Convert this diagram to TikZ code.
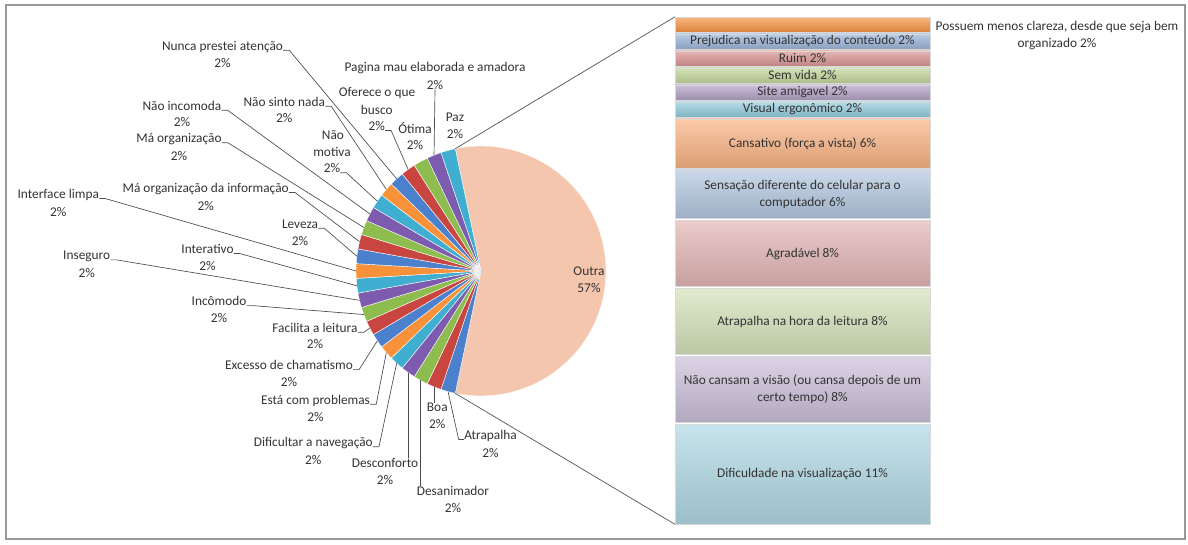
\documentclass[tikz,border=0pt]{standalone}
\usepackage{fontspec}
\setmainfont{Carlito}
\definecolor{cblue}{HTML}{4A80CC}
\definecolor{cred}{HTML}{C9453F}
\definecolor{cgreen}{HTML}{8DBD4E}
\definecolor{cpurple}{HTML}{7D5BAE}
\definecolor{caqua}{HTML}{3FAED0}
\definecolor{corange}{HTML}{F7923A}
\definecolor{coutra}{HTML}{F4C6AE}
\tikzset{
  lbl/.style={font=\fontsize{10}{12.5}\selectfont, text=black!80, inner sep=0pt, align=center},
  lead/.style={draw=black!70, line width=0.5pt},
  seg/.style={font=\fontsize{10}{12.5}\selectfont, text=black!80, inner sep=0pt, align=center,
    minimum width=191pt, draw=white!85!black, line width=0.3pt},
}
\newcommand\pielabel[4]{
    \node[lbl] (#1) at (#2,#3) {#4};
    \node[lbl] (#1p) at (#2,#3+16.5) {2\%};
}

\begin{document}
\begin{tikzpicture}[x=0.75pt,y=-0.75pt]
    \useasboundingbox (0,0) rectangle (1188,544);
    \draw[gray!80, line width=1.5pt] (6,5) rectangle (1185,539);
    % pie
    \coordinate (c) at (481,271);
    \filldraw[fill=coutra, draw=white, line width=0.3pt] (c) -- ++(-101.887:125)
        arc[start angle=-101.887, end angle=101.887, radius=125] -- cycle;
    \foreach \col [count=\k] in {cblue,cred,cgreen,cpurple,caqua,corange,
        cblue,cred,cgreen,cpurple,caqua,corange,cblue,cred,cgreen,cpurple,caqua,corange,
        cblue,cred,cgreen,cpurple,caqua}{
        \pgfmathsetmacro\a{101.887+(\k-1)*6.7925}
        \filldraw[fill=\col, draw=white, line width=0.3pt] (c) -- ++(\a:125)
            arc[start angle=\a, end angle=\a+6.7925, radius=125] -- cycle;
        \path (c) ++(\a+3.396:125) coordinate (s\k);
    }
    \path (c) ++(-101.887:125) coordinate (otop);
    \path (c) ++(101.887:125) coordinate (obot);
    \node[lbl] (outra) at (589,280) {Outra\\57\%};
    % labels round the pie
    \pielabel{atrap}{490.5}{436}{Atrapalha}
    \pielabel{boa}{437.3}{407.3}{Boa}
    \pielabel{desan}{453}{491}{Desanimador}
    \pielabel{desconf}{385}{463.3}{Desconforto}
    \pielabel{dific}{313.3}{443.3}{Dificultar a navegação}
    \pielabel{esta}{315.5}{400.7}{Está com problemas}
    \pielabel{exc}{289}{365}{Excesso de chamatismo}
    \pielabel{facil}{315}{327.7}{Facilita a leitura}
    \pielabel{incom}{219}{301}{Incômodo}
    \pielabel{inseg}{86.7}{256.7}{Inseguro}
    \pielabel{intera}{207.5}{249}{Interativo}
    \pielabel{iface}{58.3}{195}{Interface limpa}
    \pielabel{leveza}{300}{224}{Leveza}
    \pielabel{mainfo}{205.7}{189}{Má organização da informação}
    \pielabel{maorg}{179}{139.3}{Má organização}
    \pielabel{naoinc}{182}{105.7}{Não incomoda}
    \node[lbl] (motiva) at (333,135) {Não};
    \pielabel{motiva2}{332}{151.7}{motiva}
    \pielabel{naosinto}{284.3}{101.7}{Não sinto nada}
    \pielabel{nunca}{222.5}{46.7}{Nunca prestei atenção}
    \node[lbl] (oferece) at (377,93.3) {Oferece o que};
    \pielabel{oferece2}{376.7}{109.5}{busco}
    \pielabel{otima}{415}{128.3}{Ótima}
    \pielabel{pagina}{435}{68.3}{Pagina mau elaborada e amadora}
    \pielabel{paz}{455}{117.3}{Paz}
    % leader lines
    \foreach \n/\k in {dific/5,esta/6,exc/7,facil/8,incom/9,inseg/10,intera/11,iface/12,
        leveza/13,mainfo/14,maorg/15,naoinc/16,naosinto/18,nunca/19}
        \draw[lead] (\n.base east) -- ++(6,0) -- (s\k);
    \draw[lead] (motiva2p.base east) -- ++(6,0) -- (s17);
    \draw[lead] (oferece2p.base east) -- ++(6,0) -- (s20);
    \draw[lead] (paginap.south) -- (s22);
    \draw[lead] (s1) -- ([xshift=-4pt]atrap.base west) -- (atrap.base west);
    \draw[lead] (s2) -- (s2 |- boa.north);
    \draw[lead] (s3) -- (s3 |- desan.north);
    \draw[lead] (s4) -- (s4 |- desconf.north);
    % bar of the rest
    \foreach \n/\s/\e/\c/\t in {
        possuem/0/1/F79646/{},
        prejud/1/2/9BB5D8/{Prejudica na visualização do conteúdo 2\%},
        ruim/2/3/D99694/{Ruim 2\%},
        semvida/3/4/C3D69B/{Sem vida 2\%},
        site/4/5/B3A2C7/{Site amigavel 2\%},
        visual/5/6/93CDDD/{Visual ergonômico 2\%},
        cansat/6/9/F9B384/{Cansativo (força a vista) 6\%},
        sensa/9/12/B3C7E0/{Sensação diferente do celular para o\\computador 6\%},
        agrad/12/16/E3B5B5/{Agradável 8\%},
        hora/16/20/D4E2BA/{Atrapalha na hora da leitura 8\%},
        naocans/20/24/CBBFD9/{Não cansam a visão (ou cansa depois de um\\certo tempo) 8\%},
        dificul/24/30/B0D8E4/{Dificuldade na visualização 11\%}}{
        \definecolor{segc}{HTML}{\c}
        \pgfmathsetmacro\h{((\e-\s)*16.97-2)*0.75}
        \node[seg, top color=segc!70!white, bottom color=segc!88!black,
            minimum height=\h pt] (\n) at (802.5,{16+(\s+\e)/2*16.97}) {\t};
    }
    \node[lbl] (possuemt) at (1057,35.5) {Possuem menos clareza, desde que seja bem\\organizado 2\%};
    \draw[lead] (otop) -- (possuem.north west);
    \draw[lead] (obot) -- (dificul.south west);
\end{tikzpicture}
\end{document}
